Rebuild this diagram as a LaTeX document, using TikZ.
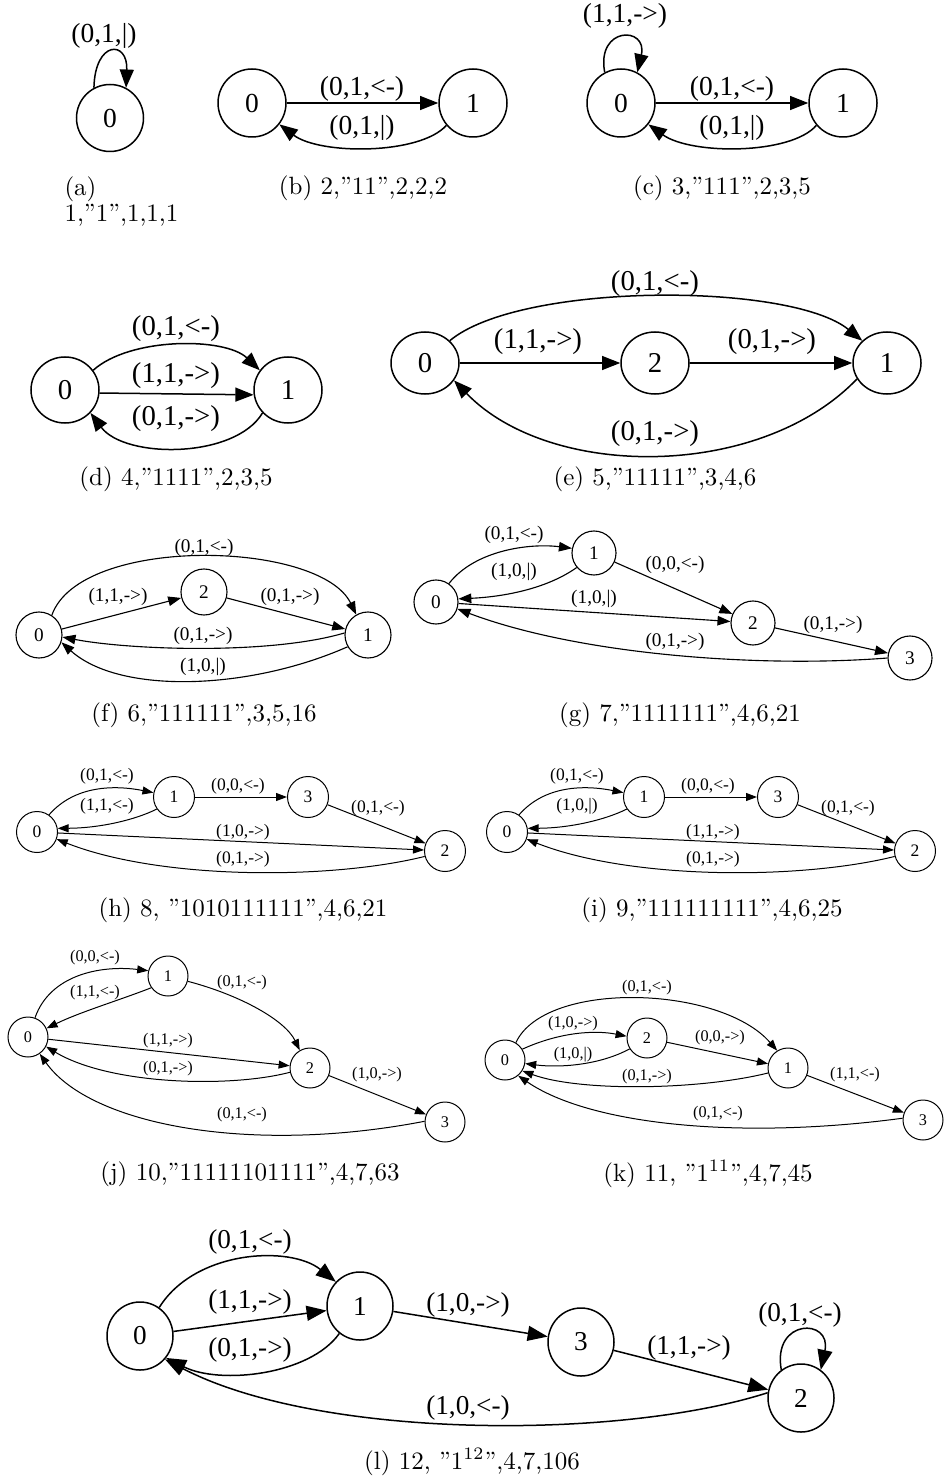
\documentclass[tikz,border=0pt]{standalone}
\usepackage{fontspec}
\newfontfamily\gv{Liberation Serif}
\usetikzlibrary{shapes.geometric,arrows.meta}
\tikzset{
  nd/.style n args={4}{ellipse, draw, line width=#4, inner sep=0pt,
    minimum width={#1*0.8pt}, minimum height={#2*0.8pt},
    font=\gv\fontsize{#3}{#3}\selectfont},
  nA/.style={nd={33.5}{33.5}{11}{0.6pt}},
  nB/.style={nd={34}{34}{11}{0.6pt}},
  nD/.style={nd={34}{33}{11.5}{0.6pt}},
  nE/.style={nd={34}{31}{11.5}{0.6pt}},
  nF/.style={nd={23}{23}{7.7}{0.45pt}},
  nG/.style={nd={22}{22}{7.7}{0.45pt}},
  nH/.style={nd={20.5}{20.5}{7}{0.4pt}},
  nJ/.style={nd={20}{20}{6.5}{0.4pt}},
  nL/.style={nd={33}{34}{10.9}{0.6pt}},
  eBig/.style={line width=0.6pt, -{Triangle[length=7.3pt,width=5.6pt]}},
  eMid/.style={line width=0.45pt, -{Triangle[length=5.2pt,width=3.8pt]}},
  eSm/.style={line width=0.4pt, -{Triangle[length=4.4pt,width=3.2pt]}},
  eL/.style={line width=0.6pt, -{Triangle[length=8pt,width=6pt]}},
  gl/.style={inner sep=0pt, font=\gv\fontsize{#1}{#1}\selectfont},
  lA/.style={gl=11}, lD/.style={gl=11.5}, lF/.style={gl=7.7},
  lH/.style={gl=7}, lJ/.style={gl=6.5}, lL/.style={gl=10.9},
  captxt/.style={inner sep=0pt, font=\fontsize{10}{12}\selectfont},
}
\begin{document}
\begin{tikzpicture}[x=0.4pt,y=-0.4pt]
\useasboundingbox (0,0) rectangle (945,1484);
% ---------- (a)
\node[nA] (a0) at (110,118) {0};
\draw[eBig] (a0.118) .. controls (95,40) and (128,40) .. (a0.62);
\node[lA] (aL1) at (104,36) {(0,1,|)};
\node[captxt, anchor=west] (aC1) at (64,189) {(a)};
\node[captxt, anchor=west] (aC2) at (64,215) {1,''1'',1,1,1};
% ---------- (b)
\node[nB] (b0) at (252,103) {0};
\node[nB] (b1) at (473,103) {1};
\draw[eBig] (b0) -- (b1);
\draw[eBig] (b1.-140) .. controls (420,155) and (320,155) .. (b0.-38);
\node[lA] (bL1) at (362,89) {(0,1,<-)};
\node[lA] (bL2) at (362,128) {(0,1,|)};
\node[captxt] (bC) at (363,188) {(b) 2,''11'',2,2,2};
% ---------- (c)
\node[nB] (c0) at (621,103) {0};
\node[nB] (c1) at (843,103) {1};
\draw[eBig] (c0.118) .. controls (596,26) and (648,26) .. (c0.62);
\draw[eBig] (c0) -- (c1);
\draw[eBig] (c1.-140) .. controls (791,155) and (691,155) .. (c0.-38);
\node[lA] (cL0) at (625,16) {(1,1,->)};
\node[lA] (cL1) at (732,89) {(0,1,<-)};
\node[lA] (cL2) at (732,128) {(0,1,|)};
\node[captxt] (cC) at (722,188) {(c) 3,''111'',2,3,5};
% ---------- (d)
\node[nD] (d0) at (65,390) {0};
\node[nD] (d1) at (288,390) {1};
\draw[eBig] (d0.35) .. controls (130,337) and (225,337) .. (d1.145);
\draw[eBig] (d0.-5) -- (d1.188);
\draw[eBig] (d1.-138) .. controls (235,459) and (125,459) .. (d0.-42);
\node[lD] (dL1) at (176,329) {(0,1,<-)};
\node[lD] (dL2) at (176,376) {(1,1,->)};
\node[lD] (dL3) at (176,419) {(0,1,->)};
\node[captxt] (dC) at (176,479) {(d) 4,''1111'',2,3,5};
% ---------- (e)
\node[nE] (e0) at (425,363) {0};
\node[nE] (e2) at (655,363) {2};
\node[nE] (e1) at (887,363) {1};
\draw[eBig] (e0) -- (e2);
\draw[eBig] (e2) -- (e1);
\draw[eBig] (e0.42) .. controls (520,282) and (790,282) .. (e1.138);
\draw[eBig] (e1.-152) .. controls (760,480) and (550,480) .. (e0.-31);
\node[lD] (eL1) at (538,342) {(1,1,->)};
\node[lD] (eL2) at (772,342) {(0,1,->)};
\node[lD] (eL3) at (655,284) {(0,1,<-)};
\node[lD] (eL4) at (655,434) {(0,1,->)};
\node[captxt] (eC) at (655,479) {(e) 5,''11111'',3,4,6};
% ---------- (f)
\node[nF] (f0) at (39,635) {0};
\node[nF] (f2) at (204,592) {2};
\node[nF] (f1) at (368,635) {1};
\draw[eMid] (f0.57) .. controls (80,535) and (320,540) .. (f1.120);
\draw[eMid] (f0) -- (f2);
\draw[eMid] (f2) -- (f1);
\draw[eMid] (f1.175) .. controls (270,655) and (130,650) .. (f0.-5);
\draw[eMid] (f1.-150) .. controls (250,690) and (120,695) .. (f0.-18);
\node[lF] (fL1) at (204,548) {(0,1,<-)};
\node[lF] (fL2) at (118,597) {(1,1,->)};
\node[lF] (fL3) at (290,597) {(0,1,->)};
\node[lF] (fL4) at (203,636) {(0,1,->)};
\node[lF] (fL5) at (203,667) {(1,0,|)};
\node[captxt] (fC) at (204,715) {(f) 6,''111111'',3,5,16};
% ---------- (g)
\node[nG] (g0) at (436,602) {0};
\node[nG] (g1) at (594,553) {1};
\node[nG] (g2) at (753,623) {2};
\node[nG] (g3) at (910,658) {3};
\draw[eMid] (g0.55) .. controls (475,550) and (530,543) .. (g1.168);
\draw[eMid] (g1.-140) .. controls (545,590) and (500,597) .. (g0.8);
\draw[eMid] (g1) -- (g2);
\draw[eMid] (g0) -- (g2);
\draw[eMid] (g2) -- (g3);
\draw[eMid] (g3.180) .. controls (760,668) and (580,655) .. (g0.-18);
\node[lF] (gL1) at (514,535) {(0,1,<-)};
\node[lF] (gL2) at (514,572) {(1,0,|)};
\node[lF] (gL3) at (675,565) {(0,0,<-)};
\node[lF] (gL4) at (594,599) {(1,0,|)};
\node[lF] (gL5) at (833,625) {(0,1,->)};
\node[lF] (gL6) at (675,642) {(0,1,->)};
\node[captxt] (gC) at (680,715) {(g) 7,''1111111'',4,6,21};
% ---------- (h)
\node[nH] (h0) at (37,832) {0};
\node[nH] (h1) at (174,797) {1};
\node[nH] (h3) at (308,797) {3};
\node[nH] (h2) at (445,851) {2};
\draw[eSm] (h0.55) .. controls (75,785) and (115,785) .. (h1.168);
\draw[eSm] (h1.-145) .. controls (135,820) and (100,828) .. (h0.10);
\draw[eSm] (h1) -- (h3);
\draw[eSm] (h3) -- (h2);
\draw[eSm] (h0) -- (h2);
\draw[eSm] (h2.-165) .. controls (330,880) and (160,880) .. (h0.-20);
\node[lH] (hL1) at (107,776) {(0,1,<-)};
\node[lH] (hL2) at (107,806) {(1,1,<-)};
\node[lH] (hL3) at (238,786) {(0,0,<-)};
\node[lH] (hL4) at (378,808) {(0,1,<-)};
\node[lH] (hL5) at (243,832) {(1,0,->)};
\node[lH] (hL6) at (243,859) {(0,1,->)};
\node[captxt] (hC) at (243,910) {(h) 8, ''1010111111'',4,6,21};
% ---------- (i)
\node[nH] (i0) at (507,832) {0};
\node[nH] (i1) at (644,797) {1};
\node[nH] (i3) at (778,797) {3};
\node[nH] (i2) at (915,851) {2};
\draw[eSm] (i0.55) .. controls (545,785) and (585,785) .. (i1.168);
\draw[eSm] (i1.-145) .. controls (605,820) and (570,828) .. (i0.10);
\draw[eSm] (i1) -- (i3);
\draw[eSm] (i3) -- (i2);
\draw[eSm] (i0) -- (i2);
\draw[eSm] (i2.-165) .. controls (800,880) and (630,880) .. (i0.-20);
\node[lH] (iL1) at (577,776) {(0,1,<-)};
\node[lH] (iL2) at (577,806) {(1,0,|)};
\node[lH] (iL3) at (708,786) {(0,0,<-)};
\node[lH] (iL4) at (848,808) {(0,1,<-)};
\node[lH] (iL5) at (713,832) {(1,1,->)};
\node[lH] (iL6) at (713,859) {(0,1,->)};
\node[captxt] (iC) at (712,910) {(i) 9,''111111111'',4,6,25};
% ---------- (j)
\node[nJ] (j0) at (28,1037) {0};
\node[nJ] (j1) at (168,976) {1};
\node[nJ] (j2) at (310,1068) {2};
\node[nJ] (j3) at (445,1122) {3};
\draw[eSm] (j0.70) .. controls (50,975) and (100,965) .. (j1.165);
\draw[eSm] (j1.-145) .. controls (120,1000) and (80,1012) .. (j0.25);
\draw[eSm] (j1.-15) .. controls (240,995) and (285,1020) .. (j2.120);
\draw[eSm] (j0) -- (j2);
\draw[eSm] (j2.-168) .. controls (230,1088) and (110,1085) .. (j0.-28);
\draw[eSm] (j2) -- (j3);
\draw[eSm] (j3.178) .. controls (250,1155) and (90,1125) .. (j0.-55);
\node[lJ] (jL1) at (95,958) {(0,0,<-)};
\node[lJ] (jL2) at (95,993) {(1,1,<-)};
\node[lJ] (jL3) at (242,983) {(0,1,<-)};
\node[lJ] (jL4) at (168,1041) {(1,1,->)};
\node[lJ] (jL5) at (168,1069) {(0,1,->)};
\node[lJ] (jL6) at (377,1075) {(1,0,->)};
\node[lJ] (jL7) at (242,1115) {(0,1,<-)};
\node[captxt] (jC) at (250,1174) {(j) 10,''11111101111'',4,7,63};
% ---------- (k)
\node[nJ] (k0) at (505,1060) {0};
\node[nJ] (k2) at (647,1038) {2};
\node[nJ] (k1) at (788,1068) {1};
\node[nJ] (k3) at (923,1120) {3};
\draw[eSm] (k0.58) .. controls (545,980) and (720,985) .. (k1.122);
\draw[eSm] (k0.32) .. controls (560,1032) and (595,1030) .. (k2.175);
\draw[eSm] (k2.-148) .. controls (600,1065) and (560,1068) .. (k0.-10);
\draw[eSm] (k2) -- (k1);
\draw[eSm] (k1.194) .. controls (700,1090) and (580,1092) .. (k0.-32);
\draw[eSm] (k1) -- (k3);
\draw[eSm] (k3.175) .. controls (740,1140) and (590,1125) .. (k0.-50);
\node[lJ] (kL1) at (647,988) {(0,1,<-)};
\node[lJ] (kL2) at (573,1024) {(1,0,->)};
\node[lJ] (kL3) at (573,1055) {(1,0,|)};
\node[lJ] (kL4) at (720,1038) {(0,0,->)};
\node[lJ] (kL5) at (647,1077) {(0,1,->)};
\node[lJ] (kL6) at (855,1075) {(1,1,<-)};
\node[lJ] (kL7) at (718,1114) {(0,1,<-)};
\node[captxt] (kC) at (708,1174) {(k) 11, ''1$^{11}$'',4,7,45};
% ---------- (l)
\node[nL] (l0) at (140,1336) {0};
\node[nL] (l1) at (360,1306) {1};
\node[nL] (l3) at (581,1342) {3};
\node[nL] (l2) at (801,1398) {2};
\draw[eL] (l0.56) .. controls (195,1250) and (290,1245) .. (l1.135);
\draw[eL] (l0) -- (l1);
\draw[eL] (l1.-127) .. controls (310,1375) and (220,1385) .. (l0.-40);
\draw[eL] (l1) -- (l3);
\draw[eL] (l3) -- (l2);
\draw[eL] (l2.125) .. controls (772,1318) and (832,1318) .. (l2.55);
\draw[eL] (l2.171) .. controls (620,1440) and (320,1440) .. (l0.-43);
\node[lL] (lL1) at (250,1242) {(0,1,<-)};
\node[lL] (lL2) at (250,1302) {(1,1,->)};
\node[lL] (lL3) at (250,1350) {(0,1,->)};
\node[lL] (lL4) at (468,1305) {(1,0,->)};
\node[lL] (lL5) at (689,1348) {(1,1,->)};
\node[lL] (lL6) at (800,1315) {(0,1,<-)};
\node[lL] (lL7) at (468,1408) {(1,0,<-)};
\node[captxt] (lC) at (472,1462) {(l) 12, ''1$^{12}$'',4,7,106};
\end{tikzpicture}
\end{document}
